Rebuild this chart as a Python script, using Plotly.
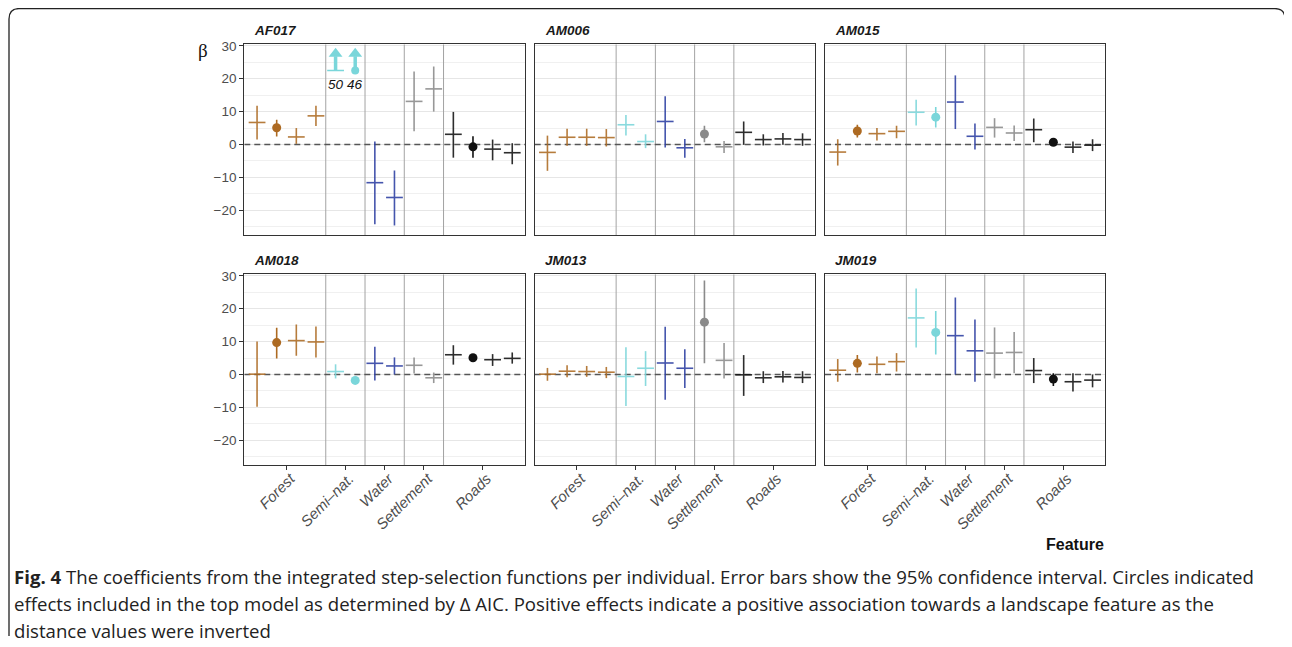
import plotly.graph_objects as go

# the page body has an 8px margin, so the figure is drawn 8px smaller and
# every reference pixel position is shifted by that margin
PAGE_W, PAGE_H, OFFSET = 1292, 647, 8
W, H = PAGE_W - OFFSET, PAGE_H - OFFSET

# ---------------- data ----------------
PANELS = ["AF017", "AM006", "AM015", "AM018", "JM013", "JM019"]
GROUPS = ["Forest", "Semi–nat.", "Water", "Settlement", "Roads"]
GROUP_SIZES = [4, 2, 2, 2, 4]
GROUP_COLORS = ["#ad6a22", "#7ad6da", "#2c3ea2", "#8a8a8a", "#111111"]

AF017_EST = [6.7, 5.1, 2.3, 8.7, 50, 46, -11.6, -16.1, 13.1, 16.9, 3.1, -0.7, -1.4, -2.5]
AF017_LO = [1.5, 2.4, 0.2, 5.6, None, None, -24.2, -24.6, 4.0, 10.0, -4.0, -4.0, -4.8, -6.0]
AF017_HI = [11.8, 7.5, 5.0, 11.8, None, None, 0.9, -7.9, 22.2, 23.7, 9.9, 2.5, 1.5, 0.4]
AF017_TOP = [0, 1, 0, 0, 0, 1, 0, 0, 0, 0, 0, 1, 0, 0]

AM006_EST = [-2.4, 2.2, 2.2, 2.1, 6.0, 0.9, 7.0, -1.0, 3.2, -0.7, 3.7, 1.5, 1.7, 1.5]
AM006_LO = [-8.0, -0.4, -0.4, -0.6, 2.7, -1.1, -0.9, -4.0, 0.7, -2.6, -0.1, -0.3, -0.1, -0.4]
AM006_HI = [2.7, 4.8, 4.8, 4.7, 9.0, 3.1, 14.7, 1.7, 5.7, 1.1, 7.0, 3.1, 3.5, 3.4]
AM006_TOP = [0, 0, 0, 0, 0, 0, 0, 0, 1, 0, 0, 0, 0, 0]

AM015_EST = [-2.3, 4.1, 3.3, 4.0, 9.8, 8.3, 12.9, 2.5, 5.2, 3.5, 4.5, 0.7, -0.8, -0.2]
AM015_LO = [-6.4, 2.1, 1.2, 1.9, 5.8, 5.2, 4.7, -1.5, 2.1, 1.1, 0.7, 0.3, -2.6, -2.0]
AM015_HI = [1.6, 6.0, 5.0, 5.7, 13.6, 11.4, 21.0, 6.4, 8.0, 5.8, 7.9, 1.1, 0.9, 1.6]
AM015_TOP = [0, 1, 0, 0, 0, 1, 0, 0, 0, 0, 0, 1, 0, 0]

AM018_EST = [0.1, 9.7, 10.3, 9.9, 0.9, -1.8, 3.4, 2.6, 2.8, -1.0, 6.0, 5.1, 4.5, 4.9]
AM018_LO = [-9.8, 4.9, 5.7, 5.2, -1.2, -2.3, -1.8, 0.0, 0.3, -2.6, 3.0, 4.7, 2.6, 3.3]
AM018_HI = [10.0, 14.2, 15.2, 14.6, 3.1, -1.3, 8.4, 5.2, 5.2, 0.6, 8.9, 5.5, 6.2, 6.7]
AM018_TOP = [0, 1, 0, 0, 0, 1, 0, 0, 0, 0, 0, 1, 0, 0]

JM013_EST = [0.1, 1.0, 0.9, 0.7, -0.6, 1.9, 3.5, 1.9, 15.9, 4.3, -0.1, -1.0, -0.7, -0.9]
JM013_LO = [-1.9, -0.8, -0.7, -1.1, -9.6, -3.5, -7.7, -4.1, 3.4, -1.2, -6.5, -2.6, -2.4, -2.6]
JM013_HI = [2.0, 2.8, 2.6, 2.3, 8.3, 7.1, 14.5, 7.7, 28.6, 9.6, 5.9, 1.0, 1.1, 1.0]
JM013_TOP = [0, 0, 0, 0, 0, 0, 0, 0, 1, 0, 0, 0, 0, 0]

JM019_EST = [1.3, 3.4, 3.1, 3.9, 17.2, 12.8, 11.8, 7.2, 6.5, 6.7, 1.2, -1.4, -2.2, -1.7]
JM019_LO = [-2.2, 0.6, 0.4, 0.9, 8.2, 6.1, 0.0, -2.2, -1.2, 0.4, -2.6, -3.5, -5.2, -3.9]
JM019_HI = [4.7, 5.9, 5.5, 6.5, 26.1, 19.3, 23.4, 16.7, 14.3, 12.9, 5.0, 0.4, 0.4, 0.0]
JM019_TOP = [0, 1, 0, 0, 0, 1, 0, 0, 0, 0, 0, 1, 0, 0]

Y_TICKS = [-20, -10, 0, 10, 20, 30]
CAPTION_LINES = [
    "<b>Fig. 4</b> The coefficients from the integrated step-selection functions per individual. Error bars show the 95% confidence interval. Circles indicated",
    "effects included in the top model as determined by Δ AIC. Positive effects indicate a positive association towards a landscape feature as the",
    "distance values were inverted",
]

DATA = {
    "AF017": (AF017_EST, AF017_LO, AF017_HI, AF017_TOP),
    "AM006": (AM006_EST, AM006_LO, AM006_HI, AM006_TOP),
    "AM015": (AM015_EST, AM015_LO, AM015_HI, AM015_TOP),
    "AM018": (AM018_EST, AM018_LO, AM018_HI, AM018_TOP),
    "JM013": (JM013_EST, JM013_LO, JM013_HI, JM013_TOP),
    "JM019": (JM019_EST, JM019_LO, JM019_HI, JM019_TOP),
}

# ---------------- layout constants (reference page pixels) ----------------
YMIN, YMAX = -27.5, 30.45
XMIN, XMAX = 0.35, 14.65
ARROW_BASE, ARROW_STEM_TOP, ARROW_HEAD, ARROW_LABEL = 22.5, 26.8, 27.6, 18.2
COL_PX = [(244.3, 525.0), (534.7, 815.3), (825.0, 1105.3)]
ROW_PX = [(44.3, 235.0), (274.3, 465.0)]
FONT = "Liberation Sans, Arial, sans-serif"


def px_x(p):
    return (p - OFFSET) / W


def px_y(p):
    return 1 - (p - OFFSET) / H


# positions, group of each position, group centres and separators
positions, pos_group = [], []
centres, separators = [], []
start = 1
for gi, n in enumerate(GROUP_SIZES):
    for k in range(n):
        positions.append(start + k)
        pos_group.append(gi)
    centres.append(start + (n - 1) / 2)
    if gi < len(GROUP_SIZES) - 1:
        separators.append(start + n - 0.5)
    start += n

fig = go.Figure()
shapes, annotations = [], []

for i, name in enumerate(PANELS):
    r, c = divmod(i, 3)
    s = "" if i == 0 else str(i + 1)
    xa, ya = f"x{s}", f"y{s}"
    est, lo, hi, top = DATA[name]

    # separators and dashed zero line (as traces: above grid, below marks)
    for sx in separators:
        fig.add_trace(go.Scatter(x=[sx, sx], y=[YMIN, YMAX], xaxis=xa, yaxis=ya, mode="lines",
                                 line=dict(color="#a3a3a3", width=1), showlegend=False, hoverinfo="skip"))
    fig.add_trace(go.Scatter(x=[XMIN, XMAX], y=[0, 0], xaxis=xa, yaxis=ya, mode="lines",
                             line=dict(color="#555555", width=1.6, dash="6px,4px"),
                             showlegend=False, hoverinfo="skip"))

    for gi, g in enumerate(GROUPS):
        col = GROUP_COLORS[gi]
        for is_top in (0, 1):
            idx = [j for j in range(len(est)) if pos_group[j] == gi and top[j] == is_top
                   and est[j] <= YMAX]
            if idx:
                marker = (dict(symbol="circle", size=9, color=col) if is_top else
                          dict(symbol="line-ew", size=12, color=col, line=dict(width=1.6, color=col)))
                fig.add_trace(go.Scatter(
                    x=[positions[j] for j in idx], y=[est[j] for j in idx],
                    xaxis=xa, yaxis=ya, mode="markers", marker=marker,
                    opacity=1 if is_top else 0.88,
                    error_y=dict(type="data", symmetric=False,
                                 array=[hi[j] - est[j] for j in idx],
                                 arrayminus=[est[j] - lo[j] for j in idx],
                                 width=0, thickness=1.6, color=col),
                    showlegend=False, hoverinfo="skip"))
            # out-of-range values drawn as arrows
            out = [j for j in range(len(est)) if pos_group[j] == gi and top[j] == is_top
                   and est[j] > YMAX]
            for j in out:
                x = positions[j]
                fig.add_trace(go.Scatter(x=[x, x], y=[ARROW_BASE, ARROW_STEM_TOP], xaxis=xa, yaxis=ya,
                                         mode="lines", line=dict(color=col, width=3.5),
                                         showlegend=False, hoverinfo="skip"))
                fig.add_trace(go.Scatter(x=[x], y=[ARROW_HEAD], xaxis=xa, yaxis=ya, mode="markers",
                                         marker=dict(symbol="triangle-up", size=12, color=col),
                                         showlegend=False, hoverinfo="skip"))
                base_marker = (dict(symbol="circle", size=8, color=col) if is_top else
                               dict(symbol="line-ew", size=12, color=col, line=dict(width=1.6, color=col)))
                fig.add_trace(go.Scatter(x=[x], y=[ARROW_BASE], xaxis=xa, yaxis=ya, mode="markers",
                                         marker=base_marker, showlegend=False, hoverinfo="skip"))
                annotations.append(dict(x=x, y=ARROW_LABEL, xref=xa, yref=ya, showarrow=False,
                                        text=f"<i>{est[j]:g}</i>",
                                        font=dict(family=FONT, size=13.5, color="#111")))

    x0, x1 = COL_PX[c]
    y0, y1 = ROW_PX[r]
    bottom = r == 1
    left = c == 0
    fig.update_layout(**{
        f"xaxis{s}": dict(domain=[px_x(x0), px_x(x1)], anchor=ya, range=[XMIN, XMAX],
                          showgrid=False, zeroline=False, showline=True, mirror=True,
                          linecolor="#333333", linewidth=1.2,
                          tickmode="array", tickvals=centres,
                          ticktext=[f"<i>{g}</i>" for g in GROUPS],
                          showticklabels=bottom, ticks="outside" if bottom else "",
                          ticklen=4, tickcolor="#333333", tickangle=-45,
                          ticklabelstandoff=-6, ticklabelshift=4,
                          tickfont=dict(family=FONT, size=15, color="#4d4d4d"),
                          automargin=False, fixedrange=True),
        f"yaxis{s}": dict(domain=[px_y(y1), px_y(y0)], anchor=xa, range=[YMIN, YMAX],
                          tickmode="array", tickvals=Y_TICKS,
                          showgrid=True, gridcolor="#e6e6e6", gridwidth=1.3,
                          minor=dict(dtick=5, tick0=0, showgrid=True, gridcolor="#f0f0f0", gridwidth=0.7),
                          zeroline=False, showline=True, mirror=True,
                          linecolor="#333333", linewidth=1.2,
                          showticklabels=left, ticks="outside" if left else "",
                          ticklen=4, tickcolor="#333333",
                          tickfont=dict(family=FONT, size=13.5, color="#4d4d4d"),
                          automargin=False, fixedrange=True),
    })
    # panel title
    annotations.append(dict(x=px_x(x0 + 8), y=px_y(y0 - 14), xref="paper", yref="paper",
                            xanchor="left", yanchor="middle", showarrow=False,
                            text=f"<b><i>{name}</i></b>",
                            font=dict(family=FONT, size=13.5, color="#1a1a1a")))

# y-axis label (beta) and x-axis title
annotations.append(dict(x=px_x(203), y=px_y(50), xref="paper", yref="paper", showarrow=False,
                        xanchor="center", yanchor="middle",
                        text="β", font=dict(family="Liberation Serif, serif", size=19, color="#111")))
annotations.append(dict(x=px_x(1106), y=px_y(544), xref="paper", yref="paper", showarrow=False,
                        xanchor="right", yanchor="middle", text="<b>Feature</b>",
                        font=dict(family=FONT, size=16, color="#111")))

# caption
for k, line in enumerate(CAPTION_LINES):
    annotations.append(dict(x=px_x(12), y=px_y(576 + 27.3 * k), xref="paper", yref="paper",
                            showarrow=False, xanchor="left", yanchor="middle", text=line,
                            font=dict(family="Open Sans, sans-serif", size=18.6, color="#222")))

# outer rounded frame (top and left edges)
def pt(x, y):
    return f"{px_x(x):.5f},{px_y(y):.5f}"

frame = (f"M{pt(9, 636)} L{pt(9, 19)} Q{pt(9, 8.6)} {pt(19, 8.6)} "
         f"L{pt(1275, 8.6)} Q{pt(1285, 8.6)} {pt(1285, 19)} L{pt(1285, 24)}")
shapes.append(dict(type="path", xref="paper", yref="paper", path=frame,
                   line=dict(color="#222222", width=1.3)))

fig.update_layout(width=W, height=H, margin=dict(l=0, r=0, t=0, b=0),
                  paper_bgcolor="white", plot_bgcolor="white",
                  shapes=shapes, annotations=annotations, showlegend=False)

fig.write_html("out.html")
